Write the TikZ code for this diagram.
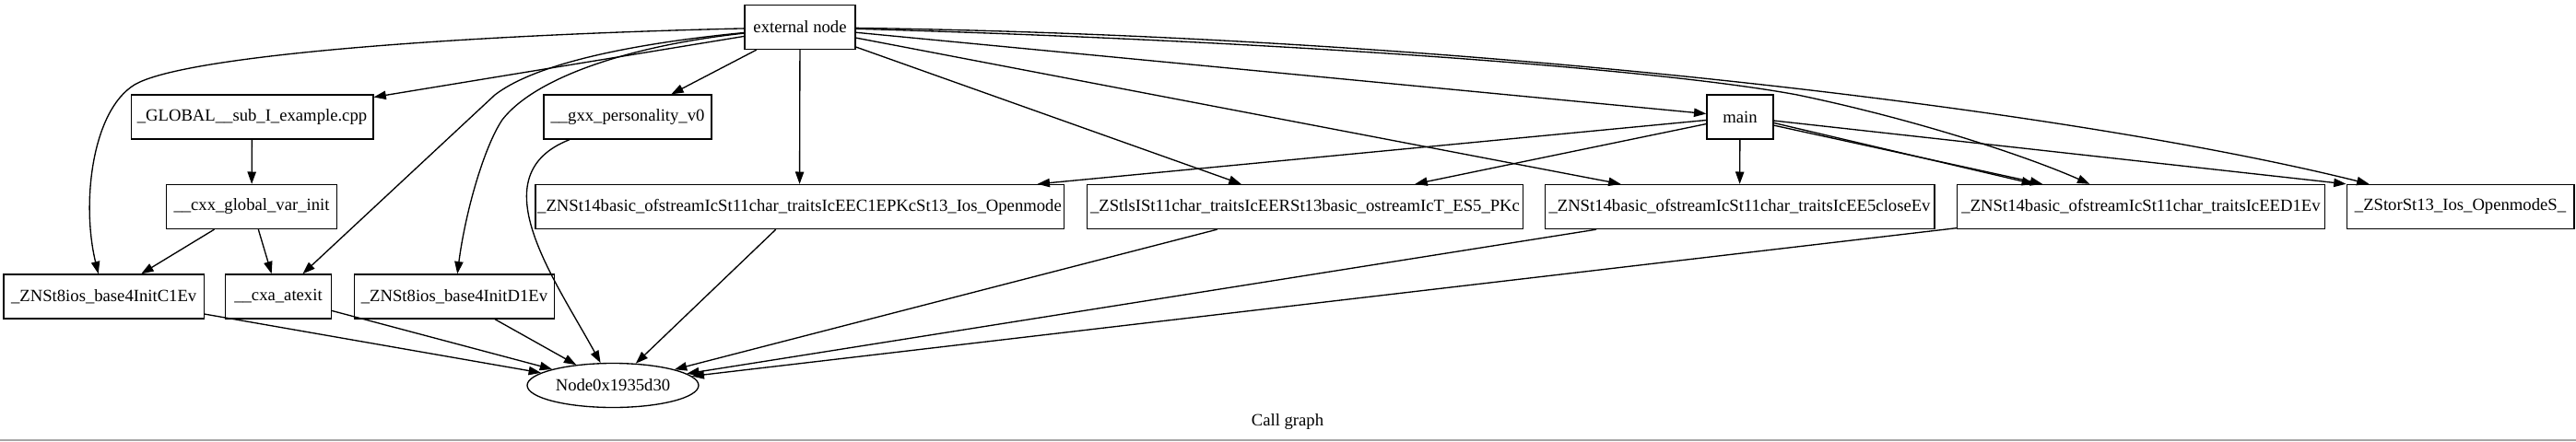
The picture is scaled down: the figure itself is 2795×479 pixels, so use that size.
\documentclass[tikz,border=0pt]{standalone}
\usepackage{fontspec}
\setmainfont{Liberation Serif}
\usetikzlibrary{arrows.meta,shapes.geometric}

\begin{document}
\begin{tikzpicture}[->,>={Triangle[length=10pt,width=7pt]},x=0.75pt,y=-0.75pt,line width=1pt,
  fn/.style={draw,rectangle,minimum height=36pt,inner sep=0pt,line width=1pt,font=\fontsize{14}{16}\selectfont},
  leaf/.style={draw,ellipse,minimum width=139.5pt,minimum height=36pt,inner sep=1pt,line width=1pt,font=\fontsize{14}{16}\selectfont}]
  \useasboundingbox (0,0) rectangle (2795,479);

  \node[fn,minimum width=90pt]    (ext)      at (868,29.5)   {external node};
  \node[fn,minimum width=197pt]   (global)   at (273.5,127)  {\_GLOBAL\_\_sub\_I\_example.cpp};
  \node[fn,minimum width=136.5pt] (gxx)      at (681,127)    {\_\_gxx\_personality\_v0};
  \node[fn,minimum width=54pt]    (main)     at (1888,127)   {main};
  \node[fn,minimum width=139pt]   (cxxinit)  at (273,224.5)  {\_\_cxx\_global\_var\_init};
  \node[fn,minimum width=430pt]   (ofsopen)  at (867.5,224.5) {\_ZNSt14basic\_ofstreamIcSt11char\_traitsIcEEC1EPKcSt13\_Ios\_Openmode};
  \node[fn,minimum width=355pt]   (lsop)     at (1416,224.5) {\_ZStlsISt11char\_traitsIcEERSt13basic\_ostreamIcT\_ES5\_PKc};
  \node[fn,minimum width=317pt]   (ofsclose) at (1887.5,224.5) {\_ZNSt14basic\_ofstreamIcSt11char\_traitsIcEE5closeEv};
  \node[fn,minimum width=299pt]   (ofsdtor)  at (2323,224.5) {\_ZNSt14basic\_ofstreamIcSt11char\_traitsIcEED1Ev};
  \node[fn,minimum width=185pt]   (orop)     at (2669.5,224.5) {\_ZStorSt13\_Ios\_OpenmodeS\_};
  \node[fn,minimum width=163pt]   (initctor) at (112.7,322)  {\_ZNSt8ios\_base4InitC1Ev};
  \node[fn,minimum width=86pt]    (cxaexit)  at (302,322)    {\_\_cxa\_atexit};
  \node[fn,minimum width=163pt]   (initdtor) at (493,322)    {\_ZNSt8ios\_base4InitD1Ev};
  \node[leaf]                     (nodex)    at (665,418.5)  {Node0x1935d30};
  \node[font=\fontsize{14}{16}\selectfont] (title) at (1397,458) {Call graph};

  % calls from the external node
  \draw (ext) .. controls (500,38) and (200,60) .. (146,92) .. controls (100,120) and (88,220) .. (initctor);
  \draw (ext) .. controls (680,48) and (580,70) .. (537,103) -- (cxaexit);
  \draw (ext) .. controls (680,50) and (580,85) .. (545,130) .. controls (525,160) and (505,230) .. (initdtor);
  \draw (ext) .. controls (1400,45) and (1800,75) .. (1950,103) .. controls (2080,130) and (2200,170) .. (ofsdtor);
  \draw (ext) .. controls (1600,40) and (2250,120) .. (orop);
  \path (ext) edge (global)
              edge (gxx)
              edge (ofsopen)
              edge (lsop)
              edge (ofsclose)
              edge (main);

  % static init
  \path (global) edge (cxxinit)
        (cxxinit) edge (initctor)
                  edge (cxaexit);

  % calls from main
  \path (main) edge (ofsopen)
               edge (lsop)
               edge (ofsclose)
               edge (orop.north west)
        (main.-10) edge (ofsdtor.168)
        (main.-14) edge (ofsdtor.167);

  % everything ends in the leaf node
  \draw (gxx) .. controls (520,190) and (600,300) .. (nodex);
  \path (initctor) edge (nodex)
        (cxaexit) edge (nodex)
        (initdtor) edge (nodex)
        (ofsopen) edge (nodex)
        (lsop) edge (nodex)
        (ofsclose) edge (nodex)
        (ofsdtor) edge (nodex);

  \draw[-,black!35,line width=1.5pt] (0,477.5) -- (2795,477.5);
\end{tikzpicture}
\end{document}
